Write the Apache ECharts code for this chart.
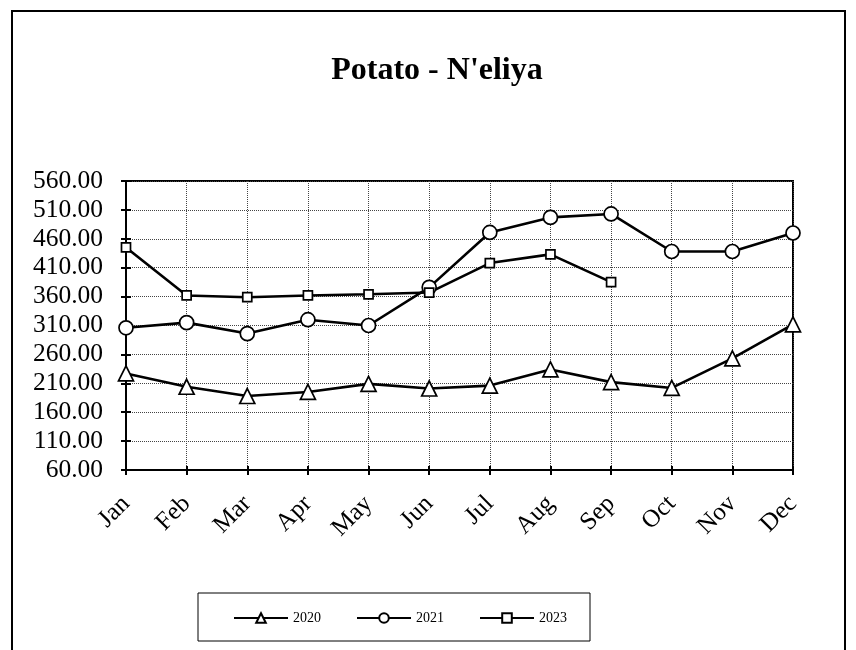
<!DOCTYPE html>
<html>
<head>
<meta charset="utf-8">
<script src="https://cdn.jsdelivr.net/npm/echarts@6/dist/echarts.min.js"></script>
<style>html,body{margin:0;padding:0;background:#fff}#c{width:856px;height:650px}</style>
</head>
<body>
<div id="c"></div>
<script>
const months = ['Jan','Feb','Mar','Apr','May','Jun','Jul','Aug','Sep','Oct','Nov','Dec'];
const seriesNames = ['2020','2021','2023'];
const y2020 = [227, 204, 188, 195, 209, 201, 206, 234, 212, 202, 253, 312];
const y2021 = [306, 315, 296, 320, 310, 376, 471, 497, 503, 438, 438, 470];
const y2023 = [445, 362, 359, 362, 364, 367, 418, 433, 385];
const titleText = "Potato - N'eliya";
const FONT = 'Liberation Serif';

const chart = echarts.init(document.getElementById('c'));
function mk(name, data, symbol, size) {
  return {
    name, type: 'line', data, symbol, symbolSize: size,
    lineStyle: {color: '#000', width: 2.6},
    itemStyle: {color: '#fff', borderColor: '#000', borderWidth: 1.7},
    emphasis: {disabled: true},
    animation: false
  };
}
chart.setOption({
  animation: false,
  backgroundColor: '#fff',
  title: {
    text: titleText, left: 432, top: 50, textAlign: 'center',
    textStyle: {fontFamily: FONT, fontSize: 32, fontWeight: 'bold', color: '#000'}
  },
  graphic: [
    {type: 'rect', shape: {x: 12, y: 11, width: 833, height: 700}, style: {fill: 'none', stroke: '#000', lineWidth: 2}, z: -1},
    {type: 'rect', shape: {x: 198, y: 593, width: 392, height: 48}, style: {fill: 'none', stroke: '#000', lineWidth: 1}, z: -1}
  ],
  legend: {
    data: seriesNames, left: 228, top: 606, itemWidth: 54, itemHeight: 12, itemGap: 35,
    textStyle: {fontFamily: FONT, fontSize: 14, color: '#000'}
  },
  grid: {left: 126, right: 63, top: 181, bottom: 180, show: true, borderColor: '#000', borderWidth: 2, containLabel: false},
  xAxis: [{
    type: 'category', data: months, boundaryGap: false,
    axisLine: {lineStyle: {color: '#000', width: 2}},
    axisTick: {show: true, length: 5, lineStyle: {color: '#000', width: 2}, alignWithLabel: true},
    axisLabel: {rotate: 45, margin: 30, fontFamily: FONT, fontSize: 25, color: '#000'},
    splitLine: {show: true, lineStyle: {type: 'dotted', color: '#444', width: 1}}
  }, {
    type: 'category', data: months, boundaryGap: false, position: 'bottom',
    axisLine: {show: false}, axisLabel: {show: false}, splitLine: {show: false},
    axisTick: {show: true, inside: true, length: 4, lineStyle: {color: '#000', width: 2}}
  }],
  yAxis: [{
    type: 'value', min: 60, max: 560, interval: 50,
    axisLine: {show: true, lineStyle: {color: '#000', width: 2}},
    axisTick: {show: true, length: 5, lineStyle: {color: '#000', width: 2}},
    axisLabel: {margin: 23, fontFamily: FONT, fontSize: 25.5, color: '#000', formatter: v => v.toFixed(2)},
    splitLine: {show: true, lineStyle: {type: 'dotted', color: '#444', width: 1}}
  }, {
    type: 'value', min: 60, max: 560, interval: 50, position: 'left',
    axisLine: {show: false}, axisLabel: {show: false}, splitLine: {show: false},
    axisTick: {show: true, inside: true, length: 5, lineStyle: {color: '#000', width: 2}}
  }],
  series: [
    mk('2020', y2020, 'triangle', 15),
    mk('2021', y2021, 'circle', 14),
    mk('2023', y2023, 'rect', 9)
  ]
});
</script>
</body>
</html>
